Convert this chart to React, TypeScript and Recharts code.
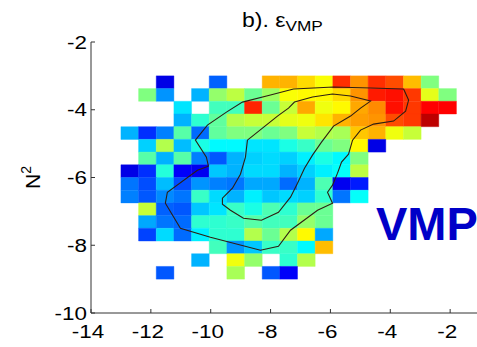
import React from 'react';
import { ScatterChart, XAxis, YAxis, ReferenceArea, Scatter } from 'recharts';

// ---- axes ----
const xTicks = [-14, -12, -10, -8, -6, -4, -2, 0];
const yTicks = [-10, -8, -6, -4, -2];

// ---- bins ----
const colStart = -13;
const colWidth = 0.59;
const rowTop = -3;
const rowHeight = 0.375;

// ---- cell values (jet colour index 0..1), rows from top (N2 = -3) to bottom (N2 = -9) ----
const _ = null;
const row01 = [_, _, 0.1, _, _, 0.22, _, _, 0.7, 0.7, 0.66, 0.62, 0.83, 0.73, 0.83, 0.8, 0.69, 0.5, _];
const row02 = [_, 0.5, 0.27, _, 0.3, 0.52, 0.56, 0.48, 0.53, 0.62, 0.63, 0.63, 0.66, 0.73, 0.85, 0.86, 0.82, 0.6, 0.5];
const row03 = [_, _, _, 0.35, _, 0.44, 0.44, 0.84, 0.48, 0.57, 0.71, 0.61, 0.63, 0.71, 0.74, 0.86, 0.82, 0.875, 0.875];
const row04 = [_, _, _, 0.3, 0.42, 0.47, 0.55, 0.57, 0.57, 0.6, 0.61, 0.65, 0.7, 0.72, 0.73, 0.8, 0.82, 0.94, _];
const row05 = [0.3, 0.17, 0.25, 0.46, 0.23, 0.47, 0.5, 0.5, 0.48, 0.5, 0.57, 0.55, 0.54, 0.68, 0.7, 0.61, 0.57];
const row06 = [_, 0.33, 0.55, 0.31, 0.4, 0.37, 0.37, 0.35, 0.35, 0.4, 0.43, 0.48, 0.5, 0.63, 0.1];
const row07 = [_, 0.46, 0.3, 0.46, 0.25, 0.21, 0.3, 0.33, 0.34, 0.33, 0.36, 0.4, 0.37, 0.5];
const row08 = [0.1, 0.17, 0.41, 0.12, 0.11, 0.32, 0.3, 0.34, 0.34, 0.3, 0.33, 0.36, 0.38, 0.56];
const row09 = [0.24, 0.2, 0.31, 0.2, 0.27, 0.25, 0.24, 0.29, 0.29, 0.23, 0.3, 0.45, 0.11, 0.15];
const row10 = [0.25, 0.21, 0.26, 0.24, 0.43, 0.34, 0.3, 0.36, 0.32, 0.34, 0.33, 0.42, 0.24, 0.38];
const row11 = [_, 0.57, 0.22, 0.21, 0.32, 0.35, 0.43, 0.4, 0.45, 0.42, 0.48, 0.48];
const row12 = [_, 0.29, 0.24, 0.23, 0.42, 0.42, 0.43, 0.46, 0.44, 0.44, 0.52, 0.48];
const row13 = [_, 0.19, 0.34, 0.23, 0.36, 0.42, 0.42, 0.55, 0.48, 0.55, 0.63, 0.29];
const row14 = [_, _, _, _, _, 0.44, 0.27, 0.32, 0.43, 0.43, 0.37, 0.69];
const row15 = [_, _, _, _, 0.3, _, 0.61, 0.52, _, 0.42, 0.55];
const row16 = [_, _, 0.21, _, _, _, 0.54, _, 0.21, 0.12];
const gridRows = [row01, row02, row03, row04, row05, row06, row07, row08, row09, row10, row11, row12, row13, row14, row15, row16];

// ---- contour lines (x, y) ----
const outerContour: [number, number][] = [
  [-3.555, -3.389], [-3.388, -3.714], [-3.488, -4.04], [-3.89, -4.335], [-4.559, -4.424], [-4.993, -4.601],
  [-5.261, -4.897], [-5.395, -5.311], [-5.629, -5.547], [-5.763, -5.872], [-5.93, -6.227], [-6.097, -6.434],
  [-5.93, -6.759], [-6.431, -6.966], [-7.334, -7.557], [-7.736, -8.03], [-8.338, -8.148], [-10.01, -7.764],
  [-11.013, -7.498], [-11.515, -6.759], [-11.448, -6.434], [-10.445, -5.784], [-10.077, -5.665], [-10.144, -5.399],
  [-10.512, -4.897], [-10.11, -4.453], [-9.475, -4.069], [-8.94, -3.774], [-8.003, -3.567], [-7.234, -3.389],
  [-5.896, -3.33], [-4.659, -3.36], [-3.555, -3.389],
];
const innerContour: [number, number][] = [
  [-8.773, -4.897], [-8.271, -4.542], [-7.769, -4.187], [-7.401, -3.951], [-7.201, -3.774], [-6.599, -3.626],
  [-5.93, -3.537], [-5.328, -3.596], [-4.659, -3.744], [-4.993, -3.951], [-5.328, -4.187], [-5.896, -4.483],
  [-6.298, -4.956], [-6.599, -5.34], [-6.866, -5.725], [-7.1, -6.168], [-7.334, -6.582], [-7.736, -7.025],
  [-8.304, -7.262], [-8.906, -7.203], [-9.341, -6.966], [-9.609, -6.789], [-9.609, -6.611], [-9.274, -6.316],
  [-9.007, -5.902], [-8.839, -5.399], [-8.773, -4.897],
];

const FONT = '"Liberation Sans", Arial, Helvetica, sans-serif';
const AXIS = '#333333';

function jet(v: number): string {
  const c = (t: number) => Math.max(0, Math.min(1, t));
  const r = c(1.5 - Math.abs(4 * v - 3));
  const g = c(1.5 - Math.abs(4 * v - 2));
  const b = c(1.5 - Math.abs(4 * v - 1));
  const h = (t: number) => Math.round(t * 255).toString(16).padStart(2, '0');
  return `#${h(r)}${h(g)}${h(b)}`;
}

const cells: { x1: number; x2: number; y1: number; y2: number; color: string }[] = [];
gridRows.forEach((row, ri) => {
  row.forEach((v, ci) => {
    if (v === null || v === undefined) return;
    cells.push({
      x1: colStart + ci * colWidth,
      x2: colStart + (ci + 1) * colWidth,
      y1: rowTop - (ri + 1) * rowHeight,
      y2: rowTop - ri * rowHeight,
      color: jet(v),
    });
  });
});

const outerData = outerContour.map(([x, y]) => ({ x, y }));
const innerData = innerContour.map(([x, y]) => ({ x, y }));

const BottomTick = (props: any) => {
  const { x, y, payload } = props;
  // the label of the last tick (0) lies beyond the visible picture
  const showLabel = payload.value !== 0;
  return (
    <g>
      <line x1={x} x2={x} y1={y} y2={y - 4} stroke={AXIS} strokeWidth={1} />
      {showLabel && (
        <text
          transform={`translate(${x - 3},${y + 25}) scale(1.18,1)`}
          textAnchor="middle"
          fontSize={19}
          fontFamily={FONT}
          fill="#000"
        >
          {payload.value}
        </text>
      )}
    </g>
  );
};

const TopTick = (props: any) => {
  const { x, y } = props;
  return <line x1={x} x2={x} y1={y} y2={y + 4} stroke={AXIS} strokeWidth={1} />;
};

const LeftTick = (props: any) => {
  const { x, y, payload } = props;
  return (
    <g>
      <line x1={x} x2={x + 4} y1={y} y2={y} stroke={AXIS} strokeWidth={1} />
      <text
        transform={`translate(${x - 4},${y + 6.5}) scale(1.18,1)`}
        textAnchor="end"
        fontSize={19}
        fontFamily={FONT}
        fill="#000"
      >
        {payload.value}
      </text>
    </g>
  );
};

const NoDot = () => <g />;

export default function App() {
  return (
    <div style={{ position: 'absolute', left: 0, top: 0, width: 477, height: 347, overflow: 'hidden', background: '#fff' }}>
      <ScatterChart width={510} height={347} margin={{ top: 42, right: 0, bottom: 0, left: 0 }}>
        <XAxis
          type="number"
          dataKey="x"
          domain={[-14, 0]}
          ticks={xTicks}
          allowDataOverflow
          height={34}
          tickSize={0}
          tickMargin={0}
          tick={<BottomTick />}
          axisLine={{ stroke: AXIS, strokeWidth: 1 }}
          tickLine={false}
          interval={0}
        />
        <XAxis
          xAxisId="top"
          orientation="top"
          type="number"
          dataKey="x"
          domain={[-14, 0]}
          ticks={xTicks}
          allowDataOverflow
          height={0}
          tickSize={0}
          tickMargin={0}
          tick={<TopTick />}
          axisLine={{ stroke: AXIS, strokeWidth: 1 }}
          tickLine={false}
          interval={0}
        />
        <YAxis
          type="number"
          dataKey="y"
          domain={[-10, -2]}
          ticks={yTicks}
          allowDataOverflow
          width={91}
          tickSize={0}
          tickMargin={0}
          tick={<LeftTick />}
          axisLine={{ stroke: AXIS, strokeWidth: 1 }}
          tickLine={false}
          interval={0}
        />
        {cells.map((c, i) => (
          <ReferenceArea
            key={i}
            x1={c.x1}
            x2={c.x2}
            y1={c.y1}
            y2={c.y2}
            fill={c.color}
            fillOpacity={1}
            stroke={c.color}
            strokeWidth={0.4}
            ifOverflow="visible"
          />
        ))}
        <Scatter
          data={outerData}
          line={{ stroke: '#2e1e12', strokeWidth: 1.1 }}
          lineType="joint"
          shape={<NoDot />}
          isAnimationActive={false}
        />
        <Scatter
          data={innerData}
          line={{ stroke: '#2e1e12', strokeWidth: 1.1 }}
          lineType="joint"
          shape={<NoDot />}
          isAnimationActive={false}
        />
        <text transform="translate(242,27) scale(1.15,1)" fontSize={20} fontFamily={FONT} fill="#000">
          b). ε<tspan fontSize={15} dy={4}>VMP</tspan>
        </text>
        <text transform="translate(40,177.5) rotate(-90)" textAnchor="middle" fontSize={21} fontFamily={FONT} fill="#000">
          N<tspan fontSize={14} dy={-9}>2</tspan>
        </text>
        <text x={376} y={240} fontSize={47} fontWeight="bold" fontFamily={FONT} fill="#0000c8">
          VMP
        </text>
      </ScatterChart>
    </div>
  );
}
